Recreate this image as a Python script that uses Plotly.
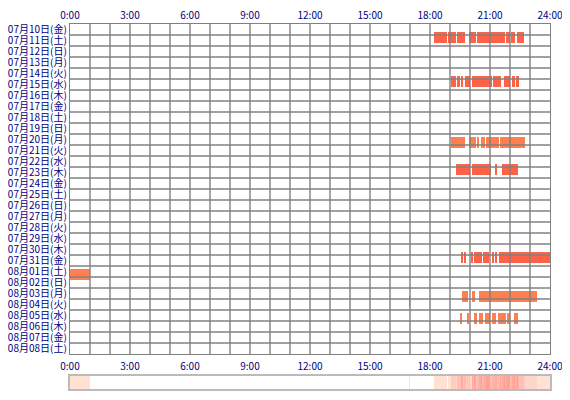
import plotly.graph_objects as go

dates = [
    "07月10日(金)", "07月11日(土)", "07月12日(日)", "07月13日(月)", "07月14日(火)",
    "07月15日(水)", "07月16日(木)", "07月17日(金)", "07月18日(土)", "07月19日(日)",
    "07月20日(月)", "07月21日(火)", "07月22日(水)", "07月23日(木)", "07月24日(金)",
    "07月25日(土)", "07月26日(日)", "07月27日(月)", "07月28日(火)", "07月29日(水)",
    "07月30日(木)", "07月31日(金)", "08月01日(土)", "08月02日(日)", "08月03日(月)",
    "08月04日(火)", "08月05日(水)", "08月06日(木)", "08月07日(金)", "08月08日(土)",
]
hour_ticks = [0, 3, 6, 9, 12, 15, 18, 21, 24]
hour_labels = ["0:00", "3:00", "6:00", "9:00", "12:00", "15:00", "18:00", "21:00", "24:00"]

# activity sessions per day, (start hour, end hour)
jul11 = [(18.20, 18.87), (18.92, 19.30), (19.37, 19.75), (19.97, 20.28),
         (20.33, 21.77), (21.82, 22.00), (22.05, 22.27), (22.33, 22.70)]
jul15 = [(19.03, 19.30), (19.35, 19.50), (19.57, 19.67), (19.75, 20.00),
         (20.08, 21.08), (21.13, 21.55), (21.68, 22.00), (22.08, 22.25), (22.32, 22.45)]
jul20 = [(19.05, 19.75), (19.97, 20.30), (20.38, 20.47), (20.55, 20.62),
         (20.68, 20.75), (20.80, 21.45), (21.50, 22.75)]
jul23 = [(19.30, 20.00), (20.12, 21.05), (21.28, 21.37), (21.58, 22.40)]
jul31 = [(19.55, 19.63), (19.68, 19.80), (20.08, 20.13), (20.20, 20.58),
         (20.67, 20.95), (21.08, 21.20), (21.27, 21.37), (21.47, 24.00)]
aug01 = [(0.00, 1.00)]
aug03 = [(19.60, 19.88), (20.08, 20.25), (20.45, 23.33)]
aug04 = [(16.95, 17.00)]
aug05 = [(19.50, 19.60), (19.83, 19.97), (20.20, 20.37), (20.45, 20.63),
         (20.75, 21.00), (21.08, 21.30), (21.38, 21.78), (21.87, 22.00), (22.20, 22.40)]

active_days = ["07月11日(土)", "07月15日(水)", "07月20日(月)", "07月23日(木)", "07月31日(金)",
               "08月01日(土)", "08月03日(月)", "08月04日(火)", "08月05日(水)"]
day_sessions = [jul11, jul15, jul20, jul23, jul31, aug01, aug03, aug04, aug05]
day_kind = ["a", "a", "b", "a", "a", "b", "b", "a", "b"]

kind_color = {"a": "#FF6347", "b": "#FF7F50"}
navy = "#000080"
grid = "#808080"

fig = go.Figure()

for kind in ["a", "b"]:
    ys, bases, lens = [], [], []
    for day, sess, k in zip(active_days, day_sessions, day_kind):
        if k != kind:
            continue
        for s, e in sess:
            ys.append(dates.index(day))
            bases.append(s)
            lens.append(e - s)
    fig.add_trace(go.Bar(
        y=ys, x=lens, base=bases, orientation="h", width=1,
        marker=dict(color=kind_color[kind], line_width=0),
        hoverinfo="skip", showlegend=False))

# grid on top of the bars
gx, gy = [], []
for h in range(1, 24):
    gx += [h, h, None]
    gy += [-0.5, len(dates) - 0.5, None]
for r in range(len(dates) - 1):
    gx += [0, 24, None]
    gy += [r + 0.5, r + 0.5, None]
fig.add_trace(go.Scatter(x=gx, y=gy, mode="lines", line=dict(color=grid, width=1.4),
                         hoverinfo="skip", showlegend=False))

# summary strip: how many days were active at each minute
minutes = [(m + 0.5) / 60 for m in range(1440)]
counts = []
for t in minutes:
    counts.append(sum(any(s <= t < e for s, e in sess) for sess in day_sessions))
top = max(counts)
fig.add_trace(go.Heatmap(
    x=minutes, y=[0.5], z=[counts], xaxis="x2", yaxis="y2",
    zmin=0, zmax=top, showscale=False, hoverinfo="skip",
    colorscale=[[0, "#FFFFFF"], [1 / top, "#FFE2D4"], [1, "#FFA096"]]))

tickfont = dict(family="Noto Sans CJK JP", size=10, color=navy)
# page body has an 8px margin, so the figure is 8px smaller than the window
fig.update_layout(
    width=562, height=392,
    margin=dict(l=62, r=20, t=16, b=11),
    paper_bgcolor="white", plot_bgcolor="white",
    bargap=0,
    xaxis=dict(range=[0, 24], side="top", tickvals=hour_ticks, ticktext=hour_labels,
               tickfont=tickfont, showgrid=False, zeroline=False, ticks="",
               automargin=False,
               showline=True, mirror=True, linecolor=grid, linewidth=1.4, anchor="y"),
    yaxis=dict(domain=[35 / 365, 1], range=[len(dates) - 0.5, -0.5],
               tickvals=list(range(len(dates))), ticktext=dates, tickfont=tickfont,
               showgrid=False, zeroline=False, ticks="", automargin=False,
               showline=True, mirror=True, linecolor=grid, linewidth=1.4),
    xaxis2=dict(range=[0, 24], side="top", tickvals=hour_ticks, ticktext=hour_labels,
                tickfont=tickfont, showgrid=False, zeroline=False, ticks="",
                automargin=False,
                showline=True, mirror=True, linecolor="#BBBBBB", linewidth=2, anchor="y2"),
    yaxis2=dict(domain=[0, 13 / 365], range=[0, 1], showticklabels=False,
                showgrid=False, zeroline=False, ticks="", automargin=False,
                showline=True, mirror=True, linecolor="#BBBBBB", linewidth=2, anchor="x2"),
)

fig.write_html("out.html")
